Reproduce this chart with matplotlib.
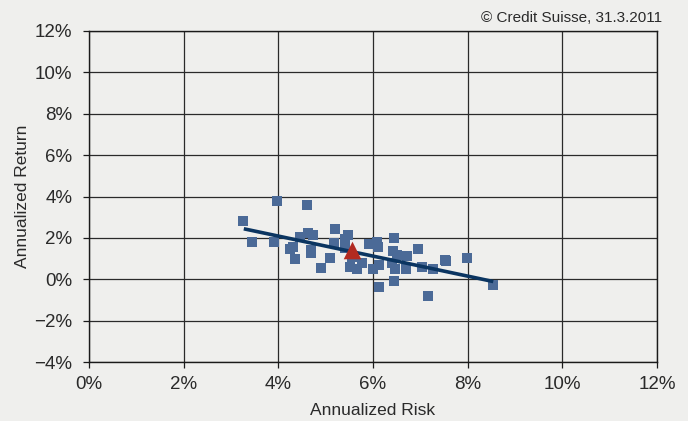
import matplotlib
matplotlib.use("Agg")
import matplotlib.pyplot as plt
import numpy as np
from matplotlib.ticker import FuncFormatter

plt.rcParams['font.family'] = ['Liberation Sans', 'DejaVu Sans']

# Annualized risk (%) and return (%) of individual funds
risk = [3.25, 3.44, 3.97, 3.91, 4.61, 4.46, 4.63, 4.73, 4.25, 4.31,
        4.69, 4.69, 4.35, 4.90, 5.10, 5.20, 5.47, 5.41, 5.18, 5.41,
        5.51, 5.66, 5.77, 5.56, 5.92, 6.09, 6.11, 6.00, 6.13, 6.13,
        6.44, 6.42, 6.51, 6.72, 6.40, 6.47, 6.70, 6.44, 6.95, 7.03,
        7.27, 7.54, 7.52, 7.99, 8.54, 7.16]
ret = [2.83, 1.81, 3.79, 1.81, 3.60, 2.05, 2.25, 2.15, 1.47, 1.57,
       1.43, 1.28, 0.99, 0.56, 1.04, 2.44, 2.15, 1.96, 1.76, 1.52,
       0.60, 0.51, 0.80, 1.09, 1.72, 1.81, 1.57, 0.51, 0.70, -0.36,
       2.00, 1.38, 1.18, 1.14, 0.80, 0.51, 0.51, -0.07, 1.47, 0.60,
       0.51, 0.89, 0.94, 1.04, -0.27, -0.80]

# Highlighted portfolio
hl_risk = [5.56]
hl_ret = [1.43]

# Trend line end points
trend_x = [3.27, 8.54]
trend_y = [2.44, -0.11]

x_ticks = [0, 2, 4, 6, 8, 10, 12]
y_ticks = [-4, -2, 0, 2, 4, 6, 8, 10, 12]

bg = '#efefed'
fig = plt.figure(figsize=(6.88, 4.21), dpi=100, facecolor=bg)
ax = fig.add_axes([0.1294, 0.1401, 0.8256, 0.7863], facecolor=bg)

ax.set_xlim(0, 12)
ax.set_ylim(-4, 12)
ax.set_xticks(x_ticks)
ax.set_yticks(y_ticks)

def fmt(v, pos):
    s = f"{int(round(v))}%"
    return s.replace('-', '\u2212')

ax.xaxis.set_major_formatter(FuncFormatter(fmt))
ax.yaxis.set_major_formatter(FuncFormatter(fmt))
ax.grid(True, color='#2a2a2a', linewidth=0.9)
ax.set_axisbelow(True)
for s in ax.spines.values():
    s.set_color('#1a1a1a')
    s.set_linewidth(1.0)
ax.tick_params(axis='both', length=4, width=0.9, color='#1a1a1a',
               labelsize=13.5, labelcolor='#2a2a2a')
ax.tick_params(axis='x', pad=6)
ax.tick_params(axis='y', pad=8)

ax.scatter(risk, ret, marker='s', s=55, color='#4b6a97', linewidths=0, zorder=3)
ax.plot(trend_x, trend_y, color='#0b3561', linewidth=2.6, zorder=4,
        solid_capstyle='butt')
ax.scatter(hl_risk, hl_ret, marker='^', s=160, color='#b22a20', linewidths=0, zorder=5)

ax.set_xlabel('Annualized Risk', fontsize=12.5, color='#2a2a2a', labelpad=7)
ax.set_ylabel('Annualized Return', fontsize=12.5, color='#2a2a2a', labelpad=3)

fig.text(0.962, 0.957, '\u00a9 Credit Suisse, 31.3.2011', ha='right', va='center',
         fontsize=11, color='#2a2a2a')

fig.savefig('out.png', dpi=100, facecolor=bg)
